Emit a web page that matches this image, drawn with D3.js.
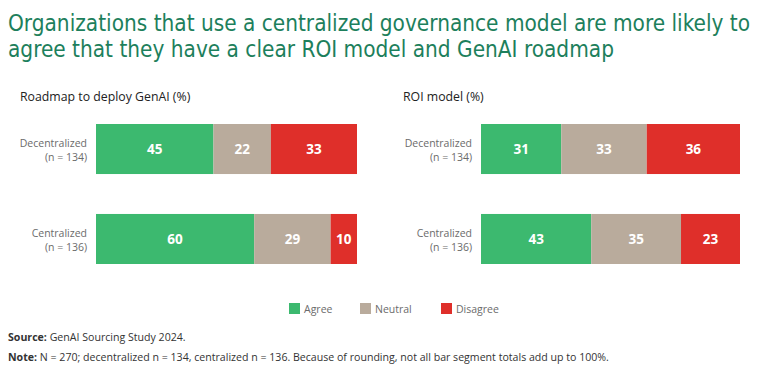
<!DOCTYPE html>
<html>
<head>
<meta charset="utf-8">
<script src="https://cdn.jsdelivr.net/npm/d3@7"></script>
<style>
  body { margin: 0; background: #fff; }
  svg { display: block; }
</style>
</head>
<body>
<svg id="chart" width="768" height="375"></svg>
<script>
let groups = ["Decentralized", "Centralized"];
let groupN = ["(n = 134)", "(n = 136)"];
let answers = ["Agree", "Neutral", "Disagree"];
let roadmapValues = [[45, 22, 33], [60, 29, 10]];
let roiValues = [[31, 33, 36], [43, 35, 23]];
let panelTitles = ["Roadmap to deploy GenAI (%)", "ROI model (%)"];

let colors = d3.scaleOrdinal()
  .domain(answers)
  .range(["#3cb96f", "#b9ab9c", "#df2f2a"]);

let svg = d3.select("#chart");

// title
let title = svg.append("text")
  .attr("fill", "#1d7f5c")
  .style("font-family", "'Liberation Sans Narrow', 'DejaVu Sans Condensed', sans-serif")
  .style("font-size", "22.4px");
title.append("tspan").attr("x", 8).attr("y", 31)
  .text("Organizations that use a centralized governance model are more likely to");
title.append("tspan").attr("x", 8).attr("y", 57)
  .text("agree that they have a clear ROI model and GenAI roadmap");

let y = d3.scaleBand()
  .domain(groups)
  .range([124, 264])
  .paddingInner(0.444)
  .paddingOuter(0);

let drawPanel = (values, panelTitle, titleX, x0, x1) => {
  let g = svg.append("g");
  g.append("text")
    .attr("x", titleX).attr("y", 101)
    .attr("fill", "#222")
    .style("font-family", "'Open Sans', sans-serif")
    .style("font-size", "12.3px")
    .text(panelTitle);

  let x = d3.scaleLinear().domain([0, 1]).range([x0, x1]);

  groups.forEach((grp, i) => {
    let row = values[i];
    let total = d3.sum(row);
    let stacked = [];
    let acc = 0;
    row.forEach((v, j) => {
      stacked.push({ key: answers[j], value: v, start: acc / total, end: (acc + v) / total });
      acc += v;
    });

    let rowG = g.append("g");
    rowG.selectAll("rect")
      .data(stacked)
      .enter()
      .append("rect")
      .attr("x", d => x(d.start))
      .attr("width", d => x(d.end) - x(d.start))
      .attr("y", y(grp))
      .attr("height", y.bandwidth())
      .attr("fill", d => colors(d.key));

    rowG.selectAll("text.val")
      .data(stacked)
      .enter()
      .append("text")
      .attr("class", "val")
      .attr("x", d => (x(d.start) + x(d.end)) / 2)
      .attr("y", y(grp) + y.bandwidth() / 2 + 5)
      .attr("text-anchor", "middle")
      .attr("fill", "#fff")
      .style("font-family", "'Open Sans', sans-serif")
      .style("font-weight", "bold")
      .style("font-size", "13.5px")
      .text(d => d.value);

    let lab = rowG.append("text")
      .attr("text-anchor", "end")
      .attr("fill", "#6b6b6b")
      .style("font-family", "'Open Sans', sans-serif")
      .style("font-size", "10.5px");
    lab.append("tspan").attr("x", x0 - 9).attr("y", y(grp) + y.bandwidth() / 2 - 2).text(grp);
    lab.append("tspan").attr("x", x0 - 9).attr("y", y(grp) + y.bandwidth() / 2 + 12).text(groupN[i]);
  });
};

drawPanel(roadmapValues, panelTitles[0], 20, 96, 357);
drawPanel(roiValues, panelTitles[1], 403, 481, 740);

// legend
let legendX = [289, 360, 441];
let legend = svg.append("g");
answers.forEach((a, i) => {
  legend.append("rect")
    .attr("x", legendX[i]).attr("y", 303)
    .attr("width", 11).attr("height", 11)
    .attr("fill", colors(a));
  legend.append("text")
    .attr("x", legendX[i] + 15).attr("y", 312.5)
    .attr("fill", "#6b6b6b")
    .style("font-family", "'Open Sans', sans-serif")
    .style("font-size", "10.5px")
    .text(a);
});

// footnotes
let foot = [
  { b: "Source:", t: " GenAI Sourcing Study 2024.", y: 341 },
  { b: "Note:", t: " N = 270; decentralized n = 134, centralized n = 136. Because of rounding, not all bar segment totals add up to 100%.", y: 361 }
];
foot.forEach(f => {
  let t = svg.append("text")
    .attr("x", 8).attr("y", f.y)
    .attr("fill", "#333")
    .style("font-family", "'Open Sans', sans-serif")
    .style("font-size", "10.6px");
  t.append("tspan").style("font-weight", "bold").text(f.b);
  t.append("tspan").text(f.t);
});
</script>
</body>
</html>
